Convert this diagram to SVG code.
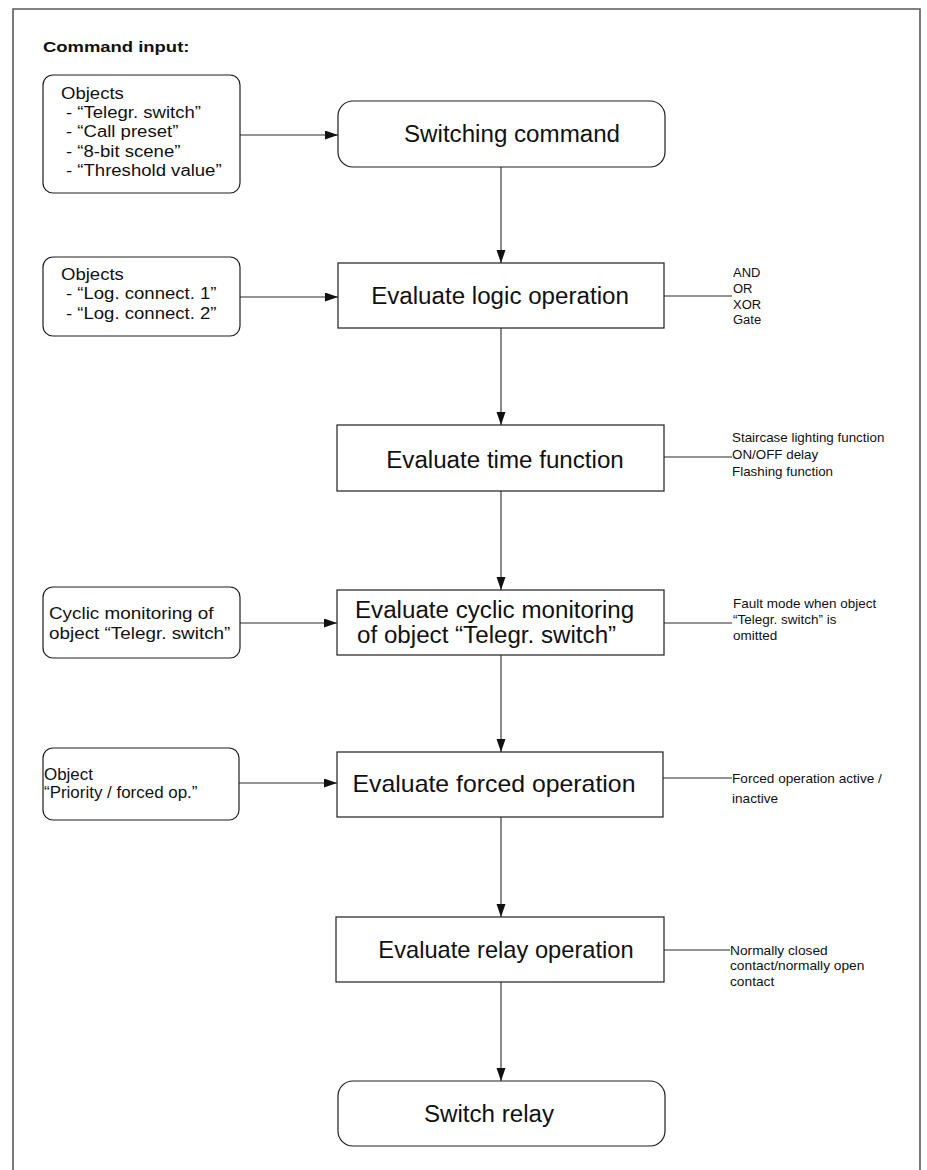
<svg xmlns="http://www.w3.org/2000/svg" width="927" height="1170" viewBox="0 0 927 1170">
  <style>
    .frame { fill: none; stroke: #5a5a5a; stroke-width: 1.6; }
    .box { fill: #ffffff; stroke: #1e1e1e; stroke-width: 1.2; }
    .edge { fill: none; stroke: #2a2a2a; stroke-width: 1.1; }
    .title { font-family: "Liberation Sans", Arial, sans-serif; font-weight: bold; font-size: 15px; fill: #111; }
    .inp { font-family: "Liberation Sans", Arial, sans-serif; font-size: 16px; fill: #111; }
    .main { font-family: "Liberation Sans", Arial, sans-serif; font-size: 23px; fill: #111; text-anchor: middle; }
    .main-l { font-family: "Liberation Sans", Arial, sans-serif; font-size: 23px; fill: #111; }
    .note { font-family: "Liberation Sans", Arial, sans-serif; font-size: 12.5px; fill: #111; }
  </style>
  <defs>
    <marker id="arrow" markerUnits="userSpaceOnUse" markerWidth="14" markerHeight="10" refX="13" refY="4.5" orient="auto">
      <path d="M0,0 L13,4.5 L0,9 z" fill="#111"/>
    </marker>
  </defs>

  <rect width="927" height="1170" fill="#ffffff"/>
  <!-- page frame, open at the bottom -->
  <path class="frame" d="M13,1172 V9 H920 V1172"/>

  <text class="title" transform="translate(43 52) scale(1.23 1)">Command input:</text>

  <!-- connectors -->
  <g id="connectors">
    <line class="edge" x1="240" y1="135" x2="338" y2="135" marker-end="url(#arrow)"/>
    <line class="edge" x1="240" y1="297" x2="338" y2="297" marker-end="url(#arrow)"/>
    <line class="edge" x1="240" y1="623" x2="337" y2="623" marker-end="url(#arrow)"/>
    <line class="edge" x1="239" y1="783" x2="337" y2="783" marker-end="url(#arrow)"/>

    <line class="edge" x1="501" y1="167" x2="501" y2="263" marker-end="url(#arrow)"/>
    <line class="edge" x1="501" y1="328" x2="501" y2="425" marker-end="url(#arrow)"/>
    <line class="edge" x1="501" y1="491" x2="501" y2="590" marker-end="url(#arrow)"/>
    <line class="edge" x1="501" y1="655" x2="501" y2="752" marker-end="url(#arrow)"/>
    <line class="edge" x1="501" y1="817" x2="501" y2="917" marker-end="url(#arrow)"/>
    <line class="edge" x1="501" y1="982" x2="501" y2="1081" marker-end="url(#arrow)"/>

    <line class="edge" x1="664" y1="296" x2="732" y2="296"/>
    <line class="edge" x1="664" y1="457" x2="732" y2="457"/>
    <line class="edge" x1="664" y1="623" x2="732" y2="623"/>
    <line class="edge" x1="663" y1="778" x2="732" y2="778"/>
    <line class="edge" x1="664" y1="950" x2="730" y2="950"/>
  </g>

  <!-- input objects -->
  <g id="in-command">
    <rect class="box" x="43" y="75" width="197" height="118" rx="10"/>
    <text class="inp" transform="translate(61 98.5) scale(1.16 1)">
      <tspan x="0" y="0">Objects</tspan>
      <tspan x="4.3" y="19.4">- “Telegr. switch”</tspan>
      <tspan x="4.3" y="38.8">- “Call preset”</tspan>
      <tspan x="4.3" y="58.2">- “8-bit scene”</tspan>
      <tspan x="4.3" y="77.6">- “Threshold value”</tspan>
    </text>
  </g>
  <g id="in-logic">
    <rect class="box" x="43" y="257" width="197" height="79" rx="10"/>
    <text class="inp" transform="translate(61 280) scale(1.16 1)">
      <tspan x="0" y="0">Objects</tspan>
      <tspan x="4.3" y="19.5">- “Log. connect. 1”</tspan>
      <tspan x="4.3" y="39">- “Log. connect. 2”</tspan>
    </text>
  </g>
  <g id="in-cyclic">
    <rect class="box" x="43" y="587" width="197" height="71" rx="10"/>
    <text class="inp" transform="translate(49 619) scale(1.18 1)">
      <tspan x="0" y="0">Cyclic monitoring of</tspan>
      <tspan x="0" y="20">object “Telegr. switch”</tspan>
    </text>
  </g>
  <g id="in-forced">
    <rect class="box" x="43" y="748" width="196" height="72" rx="10"/>
    <text class="inp" transform="translate(44 780) scale(1.06 1)">
      <tspan x="0" y="0">Object</tspan>
      <tspan x="0" y="18">“Priority / forced op.”</tspan>
    </text>
  </g>

  <!-- processing chain -->
  <g id="switching-command">
    <rect class="box" x="338" y="101" width="327" height="66" rx="15"/>
    <text class="main" transform="translate(512 142) scale(1.05 1)">Switching command</text>
  </g>
  <g id="logic-operation">
    <rect class="box" x="338" y="263" width="326" height="65"/>
    <text class="main" transform="translate(500 304) scale(1.05 1)">Evaluate logic operation</text>
  </g>
  <g id="time-function">
    <rect class="box" x="337" y="425" width="327" height="66"/>
    <text class="main" transform="translate(505 468) scale(1.05 1)">Evaluate time function</text>
  </g>
  <g id="cyclic-monitoring">
    <rect class="box" x="337" y="590" width="327" height="65"/>
    <text class="main-l" transform="translate(355 618) scale(1.05 1)">
      <tspan x="0" y="0">Evaluate cyclic monitoring</tspan>
      <tspan x="2" y="25">of object “Telegr. switch”</tspan>
    </text>
  </g>
  <g id="forced-operation">
    <rect class="box" x="337" y="752" width="326" height="65"/>
    <text class="main" transform="translate(494 792) scale(1.08 1)">Evaluate forced operation</text>
  </g>
  <g id="relay-operation">
    <rect class="box" x="336" y="917" width="328" height="65"/>
    <text class="main" transform="translate(506 958) scale(1.03 1)">Evaluate relay operation</text>
  </g>
  <g id="switch-relay">
    <rect class="box" x="338" y="1081" width="327" height="65" rx="15"/>
    <text class="main" transform="translate(489 1122) scale(1.05 1)">Switch relay</text>
  </g>

  <!-- side notes -->
  <g id="note-logic">
    <text class="note" transform="translate(733 277) scale(1.04 1)">
      <tspan x="0" y="0">AND</tspan>
      <tspan x="0" y="16">OR</tspan>
      <tspan x="0" y="32">XOR</tspan>
      <tspan x="0" y="47.5">Gate</tspan>
    </text>
  </g>
  <g id="note-time">
    <text class="note" transform="translate(732 442) scale(1.07 1)">
      <tspan x="0" y="0">Staircase lighting function</tspan>
      <tspan x="0" y="17.5">ON/OFF delay</tspan>
      <tspan x="0" y="34">Flashing function</tspan>
    </text>
  </g>
  <g id="note-cyclic">
    <text class="note" transform="translate(733 608) scale(1.08 1)">
      <tspan x="0" y="0">Fault mode when object</tspan>
      <tspan x="0" y="16">“Telegr. switch” is</tspan>
      <tspan x="0" y="32">omitted</tspan>
    </text>
  </g>
  <g id="note-forced">
    <text class="note" transform="translate(732 783) scale(1.09 1)">
      <tspan x="0" y="0">Forced operation active /</tspan>
      <tspan x="0" y="20">inactive</tspan>
    </text>
  </g>
  <g id="note-relay">
    <text class="note" transform="translate(730 955) scale(1.1 1)">
      <tspan x="0" y="0">Normally closed</tspan>
      <tspan x="0" y="15.5">contact/normally open</tspan>
      <tspan x="0" y="31">contact</tspan>
    </text>
  </g>
</svg>
